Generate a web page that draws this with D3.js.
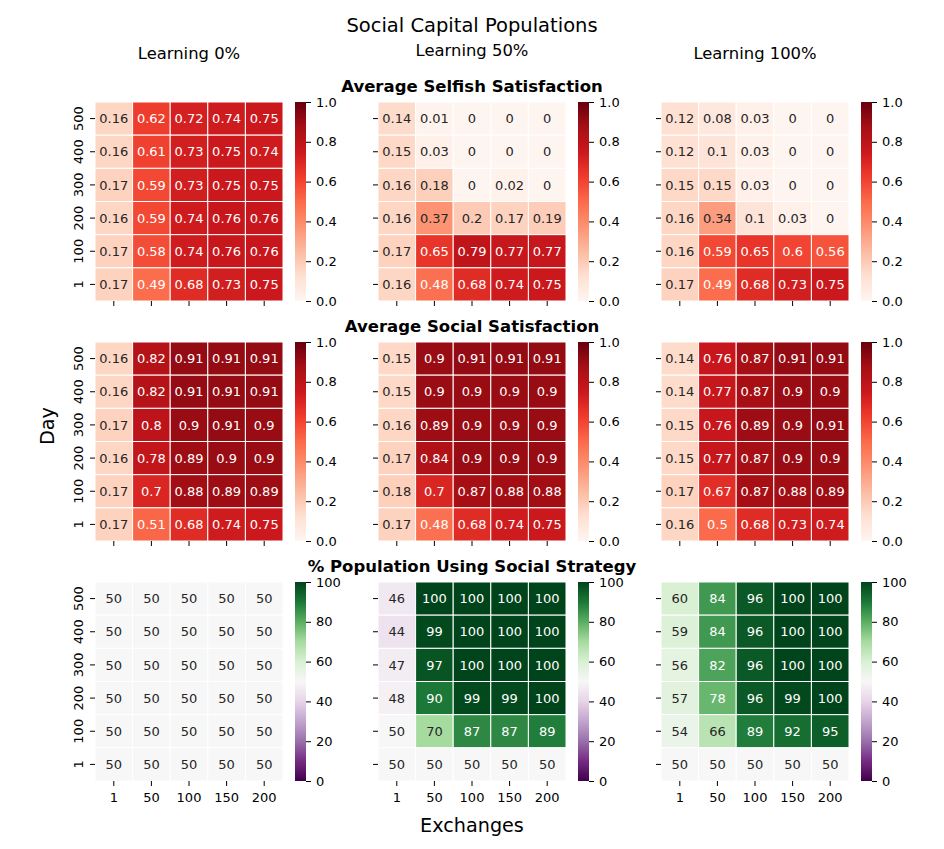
<!DOCTYPE html>
<html>
<head>
<meta charset="utf-8">
<script src="https://cdn.jsdelivr.net/npm/d3@7"></script>
<style>
  body { margin: 0; background: #fff; }
  svg text { font-family: "DejaVu Sans", sans-serif; }
</style>
</head>
<body>
<div id="chart"></div>
<script>
// rows are days (top to bottom), columns are exchanges
const days = ["500", "400", "300", "200", "100", "1"];
const exchanges = ["1", "50", "100", "150", "200"];
const learningLabels = ["Learning 0%", "Learning 50%", "Learning 100%"];
const metricTitles = ["Average Selfish Satisfaction", "Average Social Satisfaction", "% Population Using Social Strategy"];

const selfish0 = [
    [0.16, 0.62, 0.72, 0.74, 0.75],
    [0.16, 0.61, 0.73, 0.75, 0.74],
    [0.17, 0.59, 0.73, 0.75, 0.75],
    [0.16, 0.59, 0.74, 0.76, 0.76],
    [0.17, 0.58, 0.74, 0.76, 0.76],
    [0.17, 0.49, 0.68, 0.73, 0.75]
];
const selfish50 = [
    [0.14, 0.01, 0, 0, 0],
    [0.15, 0.03, 0, 0, 0],
    [0.16, 0.18, 0, 0.02, 0],
    [0.16, 0.37, 0.2, 0.17, 0.19],
    [0.17, 0.65, 0.79, 0.77, 0.77],
    [0.16, 0.48, 0.68, 0.74, 0.75]
];
const selfish100 = [
    [0.12, 0.08, 0.03, 0, 0],
    [0.12, 0.1, 0.03, 0, 0],
    [0.15, 0.15, 0.03, 0, 0],
    [0.16, 0.34, 0.1, 0.03, 0],
    [0.16, 0.59, 0.65, 0.6, 0.56],
    [0.17, 0.49, 0.68, 0.73, 0.75]
];
const social0 = [
    [0.16, 0.82, 0.91, 0.91, 0.91],
    [0.16, 0.82, 0.91, 0.91, 0.91],
    [0.17, 0.8, 0.9, 0.91, 0.9],
    [0.16, 0.78, 0.89, 0.9, 0.9],
    [0.17, 0.7, 0.88, 0.89, 0.89],
    [0.17, 0.51, 0.68, 0.74, 0.75]
];
const social50 = [
    [0.15, 0.9, 0.91, 0.91, 0.91],
    [0.15, 0.9, 0.9, 0.9, 0.9],
    [0.16, 0.89, 0.9, 0.9, 0.9],
    [0.17, 0.84, 0.9, 0.9, 0.9],
    [0.18, 0.7, 0.87, 0.88, 0.88],
    [0.17, 0.48, 0.68, 0.74, 0.75]
];
const social100 = [
    [0.14, 0.76, 0.87, 0.91, 0.91],
    [0.14, 0.77, 0.87, 0.9, 0.9],
    [0.15, 0.76, 0.89, 0.9, 0.91],
    [0.15, 0.77, 0.87, 0.9, 0.9],
    [0.17, 0.67, 0.87, 0.88, 0.89],
    [0.16, 0.5, 0.68, 0.73, 0.74]
];
const strategy0 = [
    [50, 50, 50, 50, 50],
    [50, 50, 50, 50, 50],
    [50, 50, 50, 50, 50],
    [50, 50, 50, 50, 50],
    [50, 50, 50, 50, 50],
    [50, 50, 50, 50, 50]
];
const strategy50 = [
    [46, 100, 100, 100, 100],
    [44, 99, 100, 100, 100],
    [47, 97, 100, 100, 100],
    [48, 90, 99, 99, 100],
    [50, 70, 87, 87, 89],
    [50, 50, 50, 50, 50]
];
const strategy100 = [
    [60, 84, 96, 100, 100],
    [59, 84, 96, 100, 100],
    [56, 82, 96, 100, 100],
    [57, 78, 96, 99, 100],
    [54, 66, 89, 92, 95],
    [50, 50, 50, 50, 50]
];

const fractionTicks = [0, 0.2, 0.4, 0.6, 0.8, 1.0];
const percentTicks = [0, 20, 40, 60, 80, 100];

// matplotlib Reds / PRGn (ColorBrewer anchors, linear in RGB)
const redsColors = ["#fff5f0", "#fee0d2", "#fcbba1", "#fc9272", "#fb6a4a", "#ef3b2c", "#cb181d", "#a50f15", "#67000d"];
const prgnColors = ["#40004b", "#762a83", "#9970ab", "#c2a5cf", "#e7d4e8", "#f7f7f7", "#d9f0d3", "#a6dba0", "#5aae61", "#1b7837", "#00441b"];

document.addEventListener("DOMContentLoaded", () => {
    const width = 944;
    const height = 849;
    const left0 = 95, top0 = 102;
    const colStep = 283, rowStep = 240;
    const panelW = 188, panelH = 199;
    const cbGap = 12, cbW = 11;
    const tickFont = 13;

    const makeCmap = (colors, max) => d3.scaleLinear()
        .domain(colors.map((c, i) => max * i / (colors.length - 1)))
        .range(colors)
        .interpolate(d3.interpolateRgb)
        .clamp(true);
    const reds = makeCmap(redsColors, 1);
    const prgn = makeCmap(prgnColors, 100);

    const rows = [
        { values: [selfish0, selfish50, selfish100], cmap: reds, colors: redsColors, max: 1, ticks: fractionTicks, fmt: d3.format(".1f") },
        { values: [social0, social50, social100], cmap: reds, colors: redsColors, max: 1, ticks: fractionTicks, fmt: d3.format(".1f") },
        { values: [strategy0, strategy50, strategy100], cmap: prgn, colors: prgnColors, max: 100, ticks: percentTicks, fmt: d3.format("d") }
    ];

    // seaborn picks annotation colour from relative luminance
    function luminance(c) {
        const rgb = d3.rgb(c);
        const lin = [rgb.r, rgb.g, rgb.b].map(v => {
            v /= 255;
            return v <= 0.03928 ? v / 12.92 : Math.pow((v + 0.055) / 1.055, 2.4);
        });
        return 0.2126 * lin[0] + 0.7152 * lin[1] + 0.0722 * lin[2];
    }

    const svg = d3.select("#chart")
        .append("svg")
        .attr("width", width)
        .attr("height", height)
        .attr("viewBox", [0, 0, width, height]);

    const defs = svg.append("defs");

    const x = d3.scaleBand().domain(exchanges).range([0, panelW]);
    const y = d3.scaleBand().domain(days).range([0, panelH]);

    rows.forEach((row, r) => {
        const gradId = "grad" + r;
        defs.append("linearGradient")
            .attr("id", gradId)
            .attr("x1", 0).attr("y1", 1).attr("x2", 0).attr("y2", 0)
            .selectAll("stop")
            .data(row.colors)
            .join("stop")
            .attr("offset", (d, i) => i / (row.colors.length - 1))
            .attr("stop-color", d => d);

        row.values.forEach((values, c) => {
            const g = svg.append("g")
                .attr("transform", `translate(${left0 + c * colStep},${top0 + r * rowStep})`);

            const cells = days.flatMap((d, i) => exchanges.map((e, j) => ({ day: d, ex: e, v: values[i][j] })));

            g.append("g")
                .selectAll("rect")
                .data(cells)
                .join("rect")
                .attr("x", d => x(d.ex))
                .attr("y", d => y(d.day))
                .attr("width", x.bandwidth())
                .attr("height", y.bandwidth())
                .attr("fill", d => row.cmap(d.v))
                .attr("stroke", "#fff")
                .attr("stroke-width", 1);

            g.append("g")
                .selectAll("text")
                .data(cells)
                .join("text")
                .attr("x", d => x(d.ex) + x.bandwidth() / 2)
                .attr("y", d => y(d.day) + y.bandwidth() / 2)
                .attr("dy", "0.36em")
                .attr("text-anchor", "middle")
                .attr("font-size", tickFont)
                .attr("fill", d => luminance(row.cmap(d.v)) > 0.408 ? "#262626" : "#fff")
                .text(d => String(d.v));

            // y axis (labels only in first column)
            g.append("g")
                .call(d3.axisLeft(y).tickSize(5).tickFormat(c === 0 ? (d => d) : () => ""))
                .call(a => a.select(".domain").remove())
                .call(a => a.selectAll("line").attr("stroke", "#000").attr("stroke-width", 1))
                .call(a => a.selectAll("text")
                    .attr("x", null)
                    .attr("dy", null)
                    .attr("transform", "translate(-12.5,0) rotate(-90)")
                    .attr("text-anchor", "middle")
                    .attr("fill", "#000")
                    .attr("font-size", tickFont)
                    .attr("font-family", "DejaVu Sans"));

            // x axis (labels only in bottom row)
            g.append("g")
                .attr("transform", `translate(0,${panelH})`)
                .call(d3.axisBottom(x).tickSize(5).tickPadding(7).tickFormat(r === 2 ? (d => d) : () => ""))
                .call(a => a.select(".domain").remove())
                .call(a => a.selectAll("line").attr("stroke", "#000").attr("stroke-width", 1))
                .call(a => a.selectAll("text")
                    .attr("fill", "#000")
                    .attr("font-size", tickFont)
                    .attr("font-family", "DejaVu Sans"));

            // colour bar
            const cb = g.append("g").attr("transform", `translate(${panelW + cbGap},0)`);
            cb.append("rect")
                .attr("width", cbW)
                .attr("height", panelH)
                .attr("fill", `url(#${gradId})`);
            const cbScale = d3.scaleLinear().domain([0, row.max]).range([panelH, 0]);
            cb.append("g")
                .attr("transform", `translate(${cbW},0)`)
                .call(d3.axisRight(cbScale).tickValues(row.ticks).tickFormat(row.fmt).tickSize(5).tickPadding(5))
                .call(a => a.select(".domain").remove())
                .call(a => a.selectAll("line").attr("stroke", "#000").attr("stroke-width", 1))
                .call(a => a.selectAll("text")
                    .attr("fill", "#000")
                    .attr("font-size", tickFont)
                    .attr("font-family", "DejaVu Sans"));
        });

        // metric title over the middle column
        svg.append("text")
            .attr("x", left0 + colStep + panelW / 2)
            .attr("y", top0 + r * rowStep - 10)
            .attr("text-anchor", "middle")
            .attr("font-size", 16.5)
            .attr("font-weight", "bold")
            .attr("fill", "#000")
            .text(metricTitles[r]);
    });

    // column headers
    svg.append("g")
        .selectAll("text")
        .data(learningLabels)
        .join("text")
        .attr("x", (d, i) => left0 + i * colStep + panelW / 2)
        .attr("y", (d, i) => i === 1 ? 56 : 59)
        .attr("text-anchor", "middle")
        .attr("font-size", 16.4)
        .attr("fill", "#000")
        .text(d => d);

    svg.append("text")
        .attr("x", width / 2)
        .attr("y", 32)
        .attr("text-anchor", "middle")
        .attr("font-size", 19.5)
        .attr("fill", "#000")
        .text("Social Capital Populations");

    svg.append("text")
        .attr("x", width / 2)
        .attr("y", 832)
        .attr("text-anchor", "middle")
        .attr("font-size", 19.2)
        .attr("fill", "#000")
        .text("Exchanges");

    svg.append("text")
        .attr("transform", "translate(54,426) rotate(-90)")
        .attr("text-anchor", "middle")
        .attr("font-size", 19.2)
        .attr("fill", "#000")
        .text("Day");
});
</script>
</body>
</html>
